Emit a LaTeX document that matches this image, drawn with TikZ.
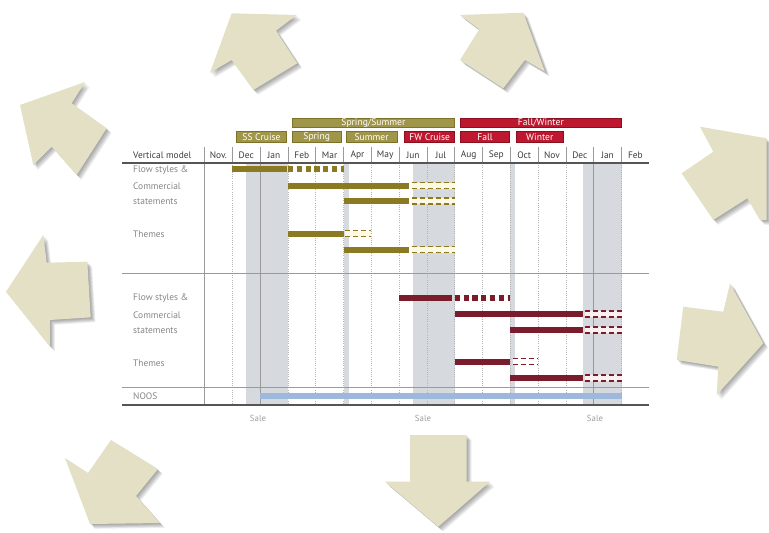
\documentclass[tikz,border=0pt]{standalone}
\usepackage{fontspec}
\setmainfont{PT Sans}

\definecolor{arrowbeige}{HTML}{E3E0C6}
\definecolor{olivelabel}{HTML}{A0964A}
\definecolor{oliveedge}{HTML}{7E7228}
\definecolor{olivebar}{HTML}{8C7A22}
\definecolor{redlabel}{HTML}{BE1830}
\definecolor{rededge}{HTML}{8A1020}
\definecolor{maroonbar}{HTML}{7B1C2C}
\definecolor{noosblue}{HTML}{9DB8DA}
\definecolor{bandgray}{HTML}{D6D9DD}
\definecolor{creamfill}{HTML}{FFF8E4}
\definecolor{pinkfill}{HTML}{FCEFEF}
\definecolor{hdrgray}{HTML}{3C3C3C}
\definecolor{rowgray}{HTML}{858585}
\definecolor{rulegray}{HTML}{555555}
\definecolor{gridgray}{HTML}{9A9A9A}
\definecolor{dotgray}{HTML}{B4B4B4}

% beige block arrow with a soft shadow towards the lower right
\newcommand{\beigearrow}[1]{%
  \foreach \s in {1,...,6}{\fill[arrowshade, shift={(0.8*\s,0.8*\s)}] #1;}
  \fill[arrowbody] #1;}

% label box above the month row: name, x from, x to, y from, y to, style, text
\newcommand{\seasonbox}[7]{%
  \path[#6] (#2,#4) rectangle (#3,#5);
  \node[seasontext] (#1) at ({(#2+#3)/2},{(#4+#5)/2+0.3}) {#7};}

% solid bar: x from, x to, y centre, colour
\newcommand{\solidbar}[4]{\fill[#4] (#1,{#3-3}) rectangle (#2,{#3+3});}
% bar of squares: x from, x to, y centre, colour
\newcommand{\squarebar}[4]{\draw[#4, line width=6, dash pattern=on 5.2pt off 3.6pt] (#1,#3) -- (#2,#3);}
% open dashed extension: x from, x to, y centre, colour, fill
\newcommand{\dashbar}[5]{%
  \fill[#5] (#1,{#3-3}) rectangle (#2,{#3+3});
  \draw[#4, line width=1.5, dash pattern=on 5pt off 3pt] (#1,{#3-3}) -- (#2,{#3-3});
  \draw[#4, line width=1.5, dash pattern=on 5pt off 3pt] (#1,{#3+3}) -- (#2,{#3+3});}

\begin{document}
\begin{tikzpicture}[x=1pt,y=-1pt,
  arrowbody/.style={fill=arrowbeige},
  arrowshade/.style={fill=black, opacity=0.065},
  hdrtext/.style={font=\fontsize{9.4}{11}\selectfont, text=hdrgray, inner sep=0},
  rowtext/.style={font=\fontsize{9.4}{11}\selectfont, text=rowgray, inner sep=0, anchor=west},
  saletext/.style={font=\fontsize{8.8}{10}\selectfont, text=rowgray!80, inner sep=0},
  seasontext/.style={font=\fontsize{9.6}{10}\selectfont, text=white, inner sep=0},
  olivebox/.style={fill=olivelabel, draw=oliveedge, line width=0.6},
  redbox/.style={fill=redlabel, draw=rededge, line width=0.6},
  mainrule/.style={draw=rulegray, line width=1.2},
  thinrule/.style={draw=gridgray, line width=0.6},
  dotrule/.style={draw=dotgray, line width=0.5, dash pattern=on 1pt off 1.2pt},
  band/.style={fill=bandgray},
]
\useasboundingbox (0,0) rectangle (769,533);
\clip (0,0) rectangle (769,533);

% ---------- the chart, x measured in months from the left of "Nov." ----------
\begin{scope}[shift={(204.5,0)}, x=27.8pt]
  % shaded sale periods
  \foreach \a/\b in {1.5/3.0, 5.0/5.2, 7.5/9.0, 11.0/11.16, 13.6/15.0}
    \fill[band] (\a,163) rectangle (\b,405);
  % column guides in the body
  \foreach \k in {1,3,4,5,6,7,8,9,10,11,12,13,15}
    \draw[dotrule] (\k,163) -- (\k,405);
  \foreach \k in {2,14}
    \draw[thinrule] (\k,163) -- (\k,405);
  % month separators in the header row
  \foreach \k in {1,...,15}
    \draw[thinrule] (\k,147) -- (\k,163);
  % month names
  \foreach \m [count=\i from 0] in {Nov.,Dec,Jan,Feb,Mar,Apr,May,Jun,Jul,Aug,Sep,Oct,Nov,Dec,Jan,Feb}
    \node[hdrtext] (m\i) at (\i+0.5,155) {\m};

  % seasons
  \seasonbox{ssum}{3.15}{9.0}{118}{127}{olivebox}{Spring/Summer}
  \seasonbox{fwin}{9.2}{15.0}{118}{127}{redbox}{Fall/Winter}
  \seasonbox{sscr}{1.15}{2.95}{131}{142}{olivebox}{SS Cruise}
  \seasonbox{spr}{3.15}{4.92}{131}{142}{olivebox}{Spring}
  \seasonbox{sum}{5.1}{6.92}{131}{142}{olivebox}{Summer}
  \seasonbox{fwcr}{7.2}{9.0}{131}{142}{redbox}{FW Cruise}
  \seasonbox{fall}{9.2}{10.98}{131}{142}{redbox}{Fall}
  \seasonbox{wint}{11.2}{12.92}{131}{142}{redbox}{Winter}

  % spring / summer planning
  \solidbar{1.0}{2.97}{169}{olivebar}
  \squarebar{3.0}{5.0}{169}{olivebar}
  \solidbar{3.0}{7.35}{185.5}{olivebar}
  \dashbar{7.45}{9.0}{185.5}{olivebar}{creamfill}
  \solidbar{5.0}{7.35}{201}{olivebar}
  \dashbar{7.45}{9.0}{201}{olivebar}{creamfill}
  \solidbar{3.0}{5.0}{233.5}{olivebar}
  \dashbar{5.05}{6.0}{233.5}{olivebar}{creamfill}
  \solidbar{5.0}{7.35}{249.5}{olivebar}
  \dashbar{7.45}{9.0}{249.5}{olivebar}{creamfill}

  % fall / winter planning
  \solidbar{7.0}{8.92}{298}{maroonbar}
  \squarebar{9.0}{11.0}{298}{maroonbar}
  \solidbar{9.0}{13.6}{314}{maroonbar}
  \dashbar{13.7}{15.0}{314}{maroonbar}{pinkfill}
  \solidbar{11.0}{13.6}{330}{maroonbar}
  \dashbar{13.7}{15.0}{330}{maroonbar}{pinkfill}
  \solidbar{9.0}{11.0}{361.5}{maroonbar}
  \dashbar{11.1}{12.0}{361.5}{maroonbar}{white}
  \solidbar{11.0}{13.6}{378}{maroonbar}
  \dashbar{13.7}{15.0}{378}{maroonbar}{pinkfill}

  % never out of stock
  \fill[noosblue] (2.0,392.8) rectangle (15.0,399.4);
\end{scope}

% rules and the label column
\draw[thinrule] (204.5,147) -- (204.5,405);
\draw[mainrule] (122,163) -- (649,163);
\draw[thinrule] (122,273.3) -- (649,273.3);
\draw[thinrule] (122,387.3) -- (649,387.3);
\draw[mainrule] (122,405) -- (649,405);

\node[hdrtext, anchor=west] (vm) at (133,155) {Vertical model};
\node[rowtext] (fs1) at (133,170) {Flow styles \&};
\node[rowtext] (cm1) at (133,186) {Commercial};
\node[rowtext] (st1) at (133,202) {statements};
\node[rowtext] (th1) at (133,234) {Themes};
\node[rowtext] (fs2) at (133,298.5) {Flow styles \&};
\node[rowtext] (cm2) at (133,315) {Commercial};
\node[rowtext] (st2) at (133,331) {statements};
\node[rowtext] (th2) at (133,363) {Themes};
\node[rowtext] (noos) at (133,396) {NOOS};

\node[saletext] (sale1) at (258,418) {Sale};
\node[saletext] (sale2) at (423,418) {Sale};
\node[saletext] (sale3) at (595,418) {Sale};

% ---------- arrows round the chart ----------
\beigearrow{(231.7,13.3) -- (296.7,15) -- (276,30.7) -- (297.3,63.3) -- (253.3,90) -- (231.7,60) -- (210,72.7) -- cycle}
\beigearrow{(460,15) -- (523.3,12.7) -- (545,71.7) -- (525,60) -- (503.3,88.3) -- (460,60) -- (479.3,29.3) -- cycle}
\beigearrow{(700,126.7) -- (766.5,138.3) -- (766.5,220) -- (760,220) -- (747.3,198.3) -- (713.3,220) -- (681.7,173.3) -- (713.3,151.7) -- cycle}
\beigearrow{(730,283.3) -- (763.3,343.3) -- (716.7,395) -- (718.3,366.7) -- (676.7,360) -- (683.3,306.7) -- (723.3,311.7) -- cycle}
\beigearrow{(410,435) -- (466.7,435) -- (466.7,481.7) -- (490,481.7) -- (438.3,526.7) -- (385,481.7) -- (410,481.7) -- cycle}
\beigearrow{(65,458) -- (88,473) -- (111,440) -- (158,469) -- (136,496) -- (160,523) -- (90,524) -- cycle}
\beigearrow{(6,291.7) -- (43.3,235) -- (46.7,262.7) -- (87.3,261.7) -- (90.7,317.3) -- (50,320) -- (50,346.7) -- cycle}
\beigearrow{(20,105) -- (85,82) -- (71.7,103.3) -- (106.7,128.3) -- (76.7,175) -- (51.7,146.7) -- (33.3,165) -- cycle}
\end{tikzpicture}
\end{document}
